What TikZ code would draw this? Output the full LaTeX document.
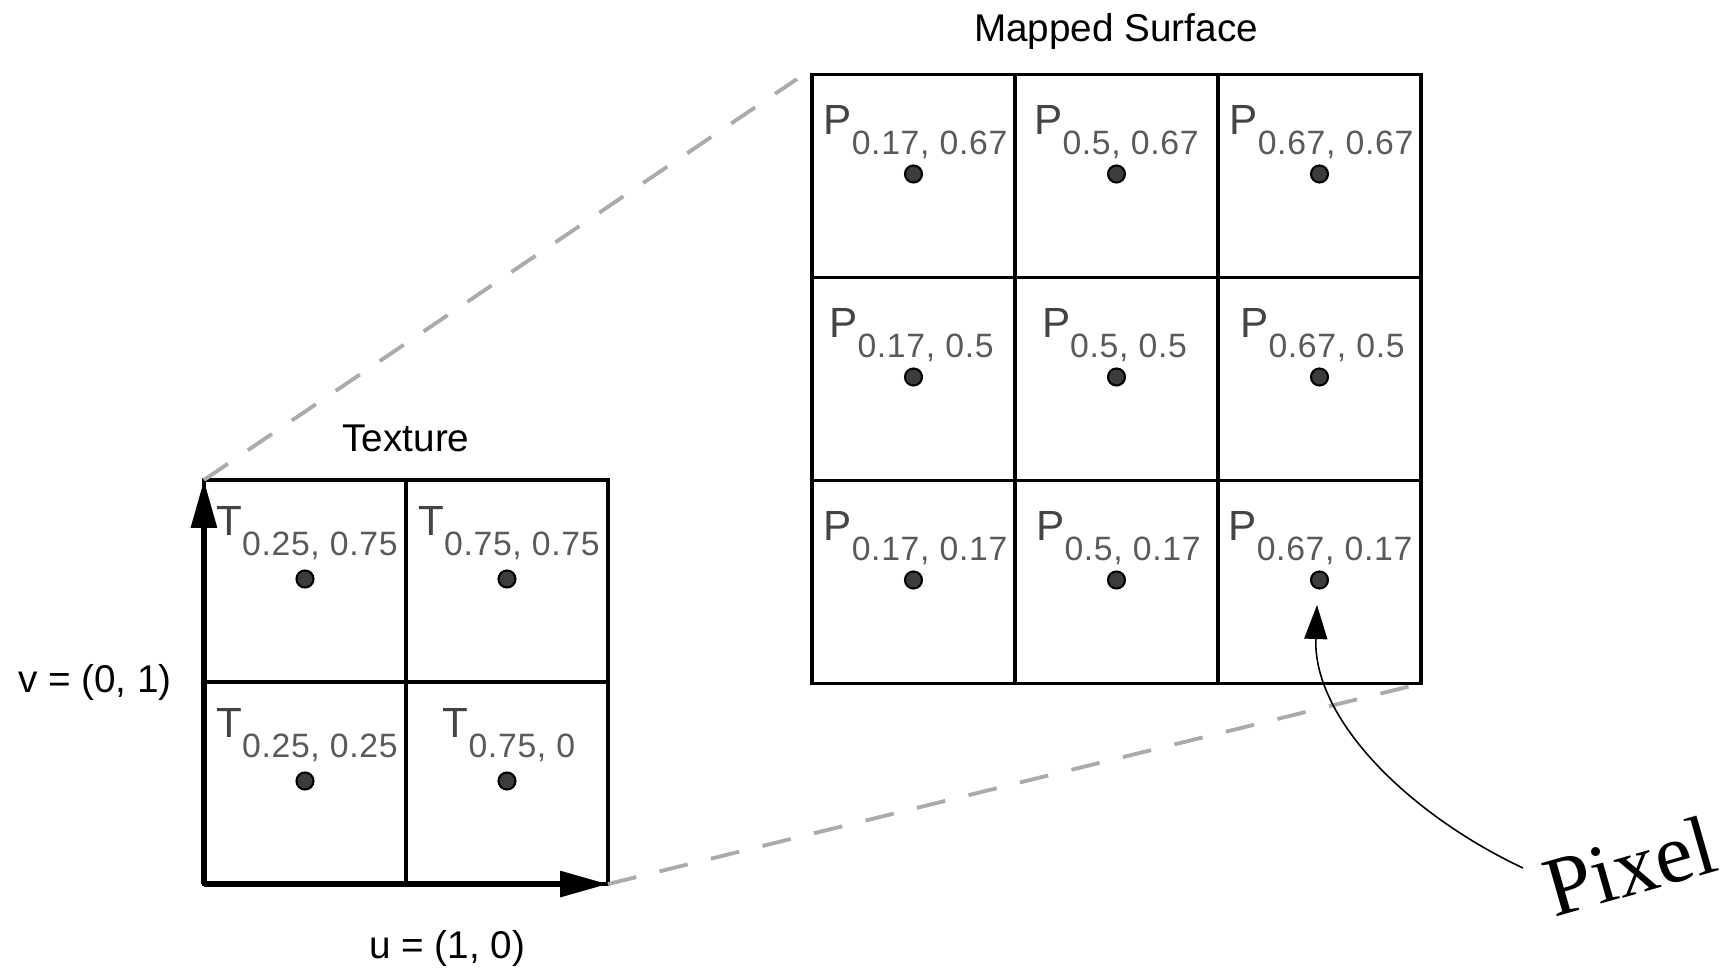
\documentclass[tikz,border=0pt]{standalone}
\usepackage{fontspec}
\setmainfont{Liberation Sans}
\newfontfamily\pixfont{Liberation Serif}
\usetikzlibrary{arrows.meta}
\definecolor{labgray}{HTML}{444444}
\definecolor{subgray}{HTML}{5A5A5A}
\definecolor{dashgray}{HTML}{ABABAB}
\definecolor{dotfill}{HTML}{3C3C3C}
\definecolor{axisgray}{HTML}{808080}
\newcommand{\cellab}[2]{{\color{labgray}\fontsize{12}{14}\selectfont #1}\raisebox{-0.2cm}{\color{subgray}\fontsize{9.6}{12}\selectfont\addfontfeatures{LetterSpace=2}#2}}
\begin{document}
\begin{tikzpicture}[x=0.01cm, y=-0.01cm,
  tcell/.style={draw, line width=0.95pt, minimum size=2.02cm, inner sep=0pt, outer sep=0pt},
  mcell/.style={draw, line width=0.95pt, minimum size=2.03cm, inner sep=0pt, outer sep=0pt},
  dotpt/.style={circle, draw=black, fill=dotfill, line width=0.6pt, minimum size=0.17cm, inner sep=0pt},
  lab/.style={anchor=base, inner sep=0pt},
  title/.style={font=\fontsize{11}{13}\selectfont, inner sep=0pt},
  dashline/.style={draw=dashgray, line width=1.1pt, dash pattern=on 0.29cm off 0.24cm},
  axis/.style={line width=1.7pt, -{Triangle[length=0.48cm,width=0.25cm]}},
  ]
\useasboundingbox[fill=white] (0,0) rectangle (1726,970);

% texture grid
\node[tcell] (t11) at (305,581) {};
\node[tcell] (t12) at (507,581) {};
\node[tcell] (t21) at (305,783) {};
\node[tcell] (t22) at (507,783) {};

% mapped grid
\node[mcell] (m11) at (913.5,176) {};
\node[mcell] (m12) at (1116.5,176) {};
\node[mcell] (m13) at (1319.5,176) {};
\node[mcell] (m21) at (913.5,379) {};
\node[mcell] (m22) at (1116.5,379) {};
\node[mcell] (m23) at (1319.5,379) {};
\node[mcell] (m31) at (913.5,582) {};
\node[mcell] (m32) at (1116.5,582) {};
\node[mcell] (m33) at (1319.5,582) {};

% dashed projection lines
\coordinate (dend) at (797,79);
\draw[dashline] (t11.north west) -- (dend);
\draw[dashline] (t22.south east) -- (m33.south east);

% axes
\coordinate (org) at (t21.south west);
\draw[axisgray, line width=0.6pt] ([xshift=0.018cm]org) -- ([xshift=0.018cm, yshift=-0.5cm]t11.north west);
\draw[axisgray, line width=0.6pt] ([yshift=0.018cm]org) -- ([yshift=0.018cm, xshift=-0.5cm]t22.south east);
\draw[axis] (org) -- (t11.north west);
\draw[axis] (org) -- (t22.south east);

% texture labels and dots
\node[lab] (lt11) at (307,535) {\cellab{T}{0.25, 0.75}};
\node[lab] (lt12) at (509,535) {\cellab{T}{0.75, 0.75}};
\node[lab] (lt21) at (307,737) {\cellab{T}{0.25, 0.25}};
\node[lab] (lt22) at (509,737) {\cellab{T}{0.75, 0}};
\node[dotpt] (dt11) at (305,579) {};
\node[dotpt] (dt12) at (507,579) {};
\node[dotpt] (dt21) at (305,781) {};
\node[dotpt] (dt22) at (507,781) {};

% mapped labels and dots
\node[lab] (lm11) at (915.5,134.5) {\cellab{P}{0.17, 0.67}};
\node[lab] (lm12) at (1116.5,134.5) {\cellab{P}{0.5, 0.67}};
\node[lab] (lm13) at (1321.5,134.5) {\cellab{P}{0.67, 0.67}};
\node[lab] (lm21) at (911.5,337.5) {\cellab{P}{0.17, 0.5}};
\node[lab] (lm22) at (1114.5,337.5) {\cellab{P}{0.5, 0.5}};
\node[lab] (lm23) at (1322.5,337.5) {\cellab{P}{0.67, 0.5}};
\node[lab] (lm31) at (915.5,540.5) {\cellab{P}{0.17, 0.17}};
\node[lab] (lm32) at (1118.5,540.5) {\cellab{P}{0.5, 0.17}};
\node[lab] (lm33) at (1320.5,540.5) {\cellab{P}{0.67, 0.17}};
\node[dotpt] (dm11) at (913.5,174) {};
\node[dotpt] (dm12) at (1116.5,174) {};
\node[dotpt] (dm13) at (1319.5,174) {};
\node[dotpt] (dm21) at (913.5,377) {};
\node[dotpt] (dm22) at (1116.5,377) {};
\node[dotpt] (dm23) at (1319.5,377) {};
\node[dotpt] (dm31) at (913.5,580) {};
\node[dotpt] (dm32) at (1116.5,580) {};
\node[dotpt] (dm33) at (1319.5,580) {};

% titles
\node[title, anchor=base] (mtitle) at (1116,42) {Mapped Surface};
\node[title, anchor=base] (ttitle) at (406,452) {Texture};
\node[title] (vlab) at (95,682) {v = (0, 1)};
\node[title] (ulab) at (447,948) {u = (1, 0)};

% pixel callout
\node[rotate=16, inner sep=0pt, font=\pixfont\fontsize{24}{28}\selectfont] (pixel) at (1630,866) {Pixel};
\coordinate (pxs) at (1523,868);
\coordinate (pxe) at (1317,605);
\draw[line width=0.45pt, -{Triangle[length=0.34cm,width=0.23cm]}] (pxs) .. controls (1410,815) and (1313,720) .. (pxe);
\end{tikzpicture}
\end{document}
